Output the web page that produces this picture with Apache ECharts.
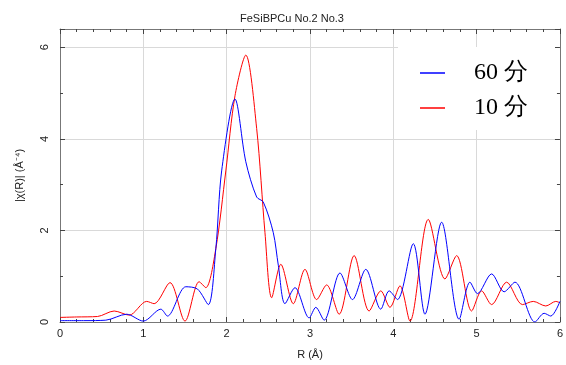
<!DOCTYPE html>
<html>
<head>
<meta charset="utf-8">
<script src="https://cdn.jsdelivr.net/npm/echarts@6/dist/echarts.min.js"></script>
<style>html,body{margin:0;padding:0;background:#fff}#c{width:566px;height:365px}</style>
</head>
<body>
<div id="c"></div>
<script>
const title = 'FeSiBPCu No.2 No.3';
const xName = 'R (Å)';
const yName = '|χ(R)| (Å⁻⁴)';
const seriesNames = ['60 分', '10 分'];
const xTicks = [0, 1, 2, 3, 4, 5, 6];
const yTicks = [0, 2, 4, 6];

const rBlue = [0, 0.3, 0.55, 0.8, 1.0, 1.21, 1.29, 1.51, 1.65, 1.78, 1.87, 1.94, 2.1, 2.23, 2.36, 2.44, 2.56, 2.62, 2.70, 2.82, 2.99, 3.07, 3.17, 3.36, 3.51, 3.67, 3.85, 3.95, 4.05, 4.24, 4.38, 4.58, 4.79, 4.92, 5.01, 5.18, 5.33, 5.46, 5.70, 5.81, 5.89, 6.0];
const vBlue = [0.03, 0.03, 0.04, 0.17, 0.02, 0.28, 0.13, 0.77, 0.72, 0.38, 1.6, 3.3, 4.87, 3.5, 2.73, 2.62, 1.95, 1.24, 0.4, 0.75, 0.09, 0.32, 0.04, 1.07, 0.49, 1.15, 0.28, 0.68, 0.49, 1.71, 0.17, 2.18, 0.06, 0.87, 0.62, 1.05, 0.66, 0.87, 0.0, 0.19, 0.13, 0.45];

const rRed = [0, 0.2, 0.45, 0.65, 0.83, 1.04, 1.13, 1.32, 1.5, 1.67, 1.75, 1.87, 1.99, 2.1, 2.23, 2.36, 2.46, 2.54, 2.65, 2.8, 2.94, 3.08, 3.2, 3.35, 3.53, 3.71, 3.85, 3.96, 4.08, 4.2, 4.42, 4.62, 4.76, 4.94, 5.06, 5.18, 5.36, 5.55, 5.68, 5.83, 5.95, 6.0];
const vRed = [0.1, 0.11, 0.12, 0.24, 0.15, 0.45, 0.4, 0.86, 0.02, 0.88, 0.75, 1.6, 3.3, 4.94, 5.83, 4.23, 1.95, 0.53, 1.26, 0.4, 1.15, 0.49, 0.81, 0.17, 1.45, 0.24, 0.68, 0.32, 0.79, 0.02, 2.24, 0.94, 1.45, 0.24, 0.68, 0.38, 0.87, 0.38, 0.45, 0.35, 0.45, 0.42];

const txt = {fontFamily: 'Liberation Sans', fontSize: 11, color: '#222'};
const frame = {show: true, onZero: false, lineStyle: {color: '#777', width: 1}};
const tick = {show: true, inside: true, length: 5, lineStyle: {color: '#444'}};
const minorTick = n => ({show: true, splitNumber: n, length: 3, lineStyle: {color: '#444'}});

const chart = echarts.init(document.getElementById('c'), null, {renderer: 'canvas'});
chart.setOption({
  animation: false,
  backgroundColor: '#fff',
  title: {text: title, left: 287, top: 8, textAlign: 'center',
    textStyle: {fontFamily: 'Liberation Sans', fontSize: 11, fontWeight: 'normal', color: '#222'}},
  grid: {left: 60, right: 2, top: 29, bottom: 37},
  legend: {
    orient: 'vertical', left: 398, top: 47,
    padding: [14, 27, 10, 22],
    backgroundColor: '#fff',
    itemWidth: 25, itemHeight: 1.5, itemGap: 11, icon: 'rect',
    textStyle: {fontFamily: 'Liberation Serif', fontSize: 24, lineHeight: 24, color: '#000', padding: [0, 0, 0, 24]},
    data: seriesNames
  },
  xAxis: [{
    type: 'value', min: xTicks[0], max: xTicks[xTicks.length - 1], interval: 1,
    position: 'bottom',
    name: xName, nameLocation: 'middle', nameGap: 27, nameTextStyle: txt,
    axisLine: frame, axisTick: tick, minorTick: minorTick(5),
    axisLabel: Object.assign({margin: 6}, txt),
    splitLine: {show: true, lineStyle: {color: '#d9d9d9', width: 1}}
  }, {
    type: 'value', min: xTicks[0], max: xTicks[xTicks.length - 1], interval: 1,
    position: 'top',
    axisLine: frame, axisTick: tick, minorTick: minorTick(5),
    axisLabel: {show: false}, splitLine: {show: false}
  }],
  yAxis: [{
    type: 'value', min: 0, max: 6.4, interval: 2,
    position: 'left',
    name: yName, nameLocation: 'middle', nameGap: 35, nameRotate: 90, nameTextStyle: txt,
    axisLine: frame, axisTick: tick, minorTick: minorTick(2),
    axisLabel: Object.assign({margin: 10, rotate: 90,
      formatter: v => yTicks.indexOf(v) >= 0 ? String(v) : ''}, txt),
    splitLine: {show: true, lineStyle: {color: '#d9d9d9', width: 1}}
  }, {
    type: 'value', min: 0, max: 6.4, interval: 2,
    position: 'right',
    axisLine: frame, axisTick: tick, minorTick: minorTick(2),
    axisLabel: {show: false}, splitLine: {show: false}
  }],
  series: [{
    name: seriesNames[0], type: 'line', xAxisIndex: 0, yAxisIndex: 0,
    data: rBlue.map((r, i) => [r, vBlue[i]]),
    smooth: 0.3, symbol: 'none', showSymbol: false,
    itemStyle: {color: '#0000ff'}, lineStyle: {color: '#0000ff', width: 1}, z: 3
  }, {
    name: seriesNames[1], type: 'line', xAxisIndex: 0, yAxisIndex: 0,
    data: rRed.map((r, i) => [r, vRed[i]]),
    smooth: 0.3, symbol: 'none', showSymbol: false,
    itemStyle: {color: '#ff0000'}, lineStyle: {color: '#ff0000', width: 1}, z: 2
  }]
});
</script>
</body>
</html>
